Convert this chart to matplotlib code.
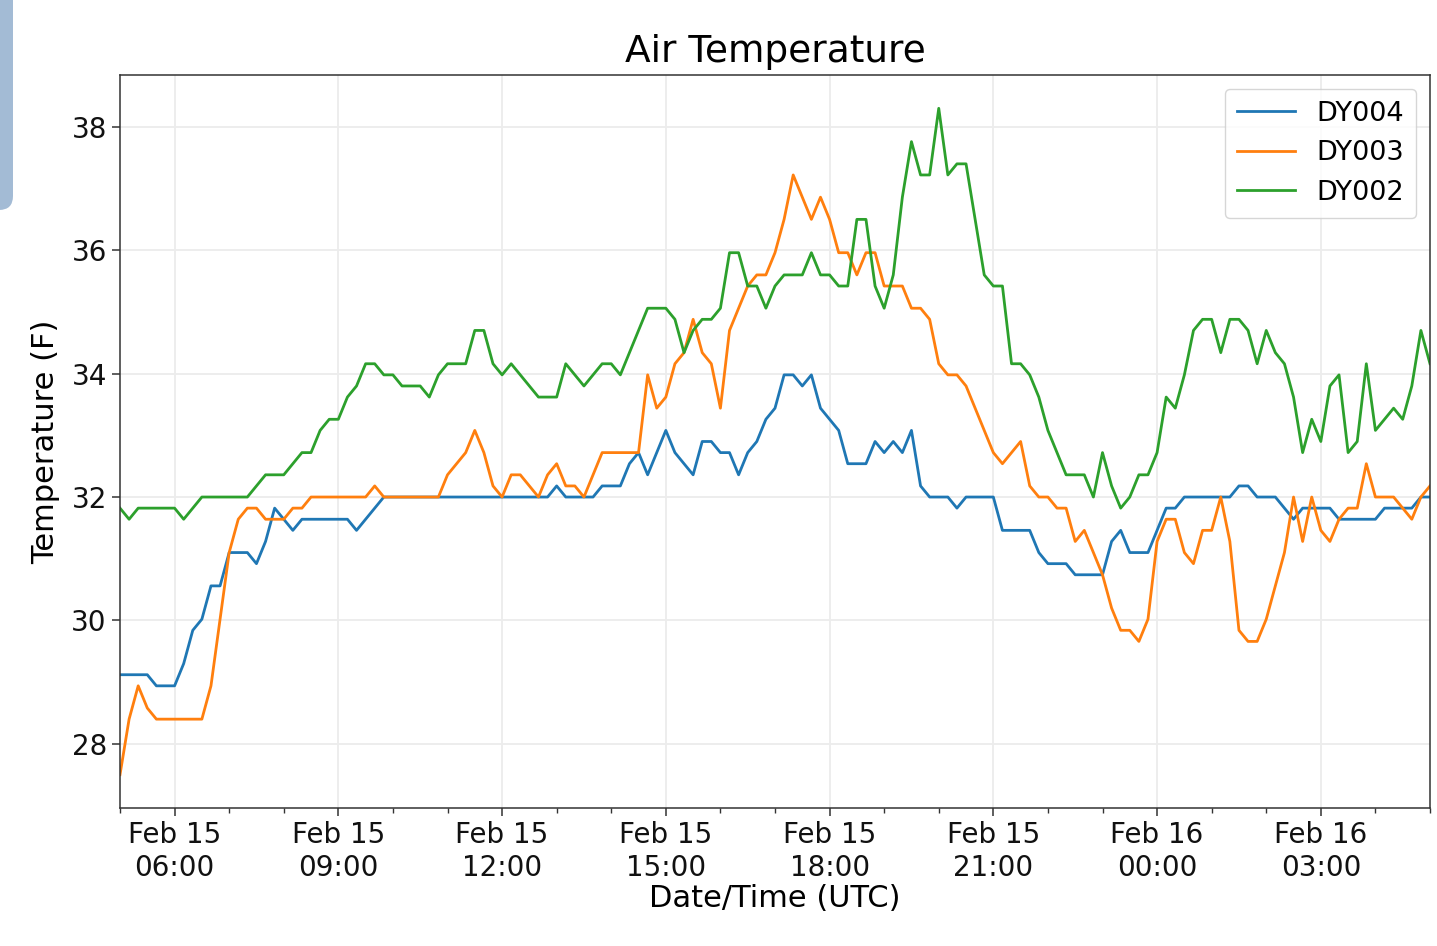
import matplotlib
matplotlib.use("Agg")
import matplotlib.pyplot as plt
import matplotlib.dates as mdates
from matplotlib.patches import FancyBboxPatch
from matplotlib.transforms import IdentityTransform
import pandas as pd

# ---- data (10-minute readings, Feb 15 05:00 -> Feb 16 05:00 UTC) ----
start_time = "2019-02-15 05:00"
series_names = ["DY004", "DY003", "DY002"]

dy004 = [29.12, 29.12, 29.12, 29.12, 28.94, 28.94, 28.94, 29.30, 29.84, 30.02,
         30.56, 30.56, 31.10, 31.10, 31.10, 30.92, 31.28, 31.82, 31.64, 31.46,
         31.64, 31.64, 31.64, 31.64, 31.64, 31.64, 31.46, 31.64, 31.82, 32.00,
         32.00, 32.00, 32.00, 32.00, 32.00, 32.00, 32.00, 32.00, 32.00, 32.00,
         32.00, 32.00, 32.00, 32.00, 32.00, 32.00, 32.00, 32.00, 32.18, 32.00,
         32.00, 32.00, 32.00, 32.18, 32.18, 32.18, 32.54, 32.72, 32.36, 32.72,
         33.08, 32.72, 32.54, 32.36, 32.90, 32.90, 32.72, 32.72, 32.36, 32.72,
         32.90, 33.26, 33.44, 33.98, 33.98, 33.80, 33.98, 33.44, 33.26, 33.08,
         32.54, 32.54, 32.54, 32.90, 32.72, 32.90, 32.72, 33.08, 32.18, 32.00,
         32.00, 32.00, 31.82, 32.00, 32.00, 32.00, 32.00, 31.46, 31.46, 31.46,
         31.46, 31.10, 30.92, 30.92, 30.92, 30.74, 30.74, 30.74, 30.74, 31.28,
         31.46, 31.10, 31.10, 31.10, 31.46, 31.82, 31.82, 32.00, 32.00, 32.00,
         32.00, 32.00, 32.00, 32.18, 32.18, 32.00, 32.00, 32.00, 31.82, 31.64,
         31.82, 31.82, 31.82, 31.82, 31.64, 31.64, 31.64, 31.64, 31.64, 31.82,
         31.82, 31.82, 31.82, 32.00, 32.00]

dy003 = [27.50, 28.40, 28.94, 28.58, 28.40, 28.40, 28.40, 28.40, 28.40, 28.40,
         28.94, 30.02, 31.10, 31.64, 31.82, 31.82, 31.64, 31.64, 31.64, 31.82,
         31.82, 32.00, 32.00, 32.00, 32.00, 32.00, 32.00, 32.00, 32.18, 32.00,
         32.00, 32.00, 32.00, 32.00, 32.00, 32.00, 32.36, 32.54, 32.72, 33.08,
         32.72, 32.18, 32.00, 32.36, 32.36, 32.18, 32.00, 32.36, 32.54, 32.18,
         32.18, 32.00, 32.36, 32.72, 32.72, 32.72, 32.72, 32.72, 33.98, 33.44,
         33.62, 34.16, 34.34, 34.88, 34.34, 34.16, 33.44, 34.70, 35.06, 35.42,
         35.60, 35.60, 35.96, 36.50, 37.22, 36.86, 36.50, 36.86, 36.50, 35.96,
         35.96, 35.60, 35.96, 35.96, 35.42, 35.42, 35.42, 35.06, 35.06, 34.88,
         34.16, 33.98, 33.98, 33.80, 33.44, 33.08, 32.72, 32.54, 32.72, 32.90,
         32.18, 32.00, 32.00, 31.82, 31.82, 31.28, 31.46, 31.10, 30.74, 30.20,
         29.84, 29.84, 29.66, 30.02, 31.28, 31.64, 31.64, 31.10, 30.92, 31.46,
         31.46, 32.00, 31.28, 29.84, 29.66, 29.66, 30.02, 30.56, 31.10, 32.00,
         31.28, 32.00, 31.46, 31.28, 31.64, 31.82, 31.82, 32.54, 32.00, 32.00,
         32.00, 31.82, 31.64, 32.00, 32.18]

dy002 = [31.82, 31.64, 31.82, 31.82, 31.82, 31.82, 31.82, 31.64, 31.82, 32.00,
         32.00, 32.00, 32.00, 32.00, 32.00, 32.18, 32.36, 32.36, 32.36, 32.54,
         32.72, 32.72, 33.08, 33.26, 33.26, 33.62, 33.80, 34.16, 34.16, 33.98,
         33.98, 33.80, 33.80, 33.80, 33.62, 33.98, 34.16, 34.16, 34.16, 34.70,
         34.70, 34.16, 33.98, 34.16, 33.98, 33.80, 33.62, 33.62, 33.62, 34.16,
         33.98, 33.80, 33.98, 34.16, 34.16, 33.98, 34.34, 34.70, 35.06, 35.06,
         35.06, 34.88, 34.34, 34.70, 34.88, 34.88, 35.06, 35.96, 35.96, 35.42,
         35.42, 35.06, 35.42, 35.60, 35.60, 35.60, 35.96, 35.60, 35.60, 35.42,
         35.42, 36.50, 36.50, 35.42, 35.06, 35.60, 36.86, 37.76, 37.22, 37.22,
         38.30, 37.22, 37.40, 37.40, 36.50, 35.60, 35.42, 35.42, 34.16, 34.16,
         33.98, 33.62, 33.08, 32.72, 32.36, 32.36, 32.36, 32.00, 32.72, 32.18,
         31.82, 32.00, 32.36, 32.36, 32.72, 33.62, 33.44, 33.98, 34.70, 34.88,
         34.88, 34.34, 34.88, 34.88, 34.70, 34.16, 34.70, 34.34, 34.16, 33.62,
         32.72, 33.26, 32.90, 33.80, 33.98, 32.72, 32.90, 34.16, 33.08, 33.26,
         33.44, 33.26, 33.80, 34.70, 34.16]

times = pd.date_range(start_time, periods=len(dy004), freq="10min")

# ---- figure ----
W, H = 1437, 946
fig = plt.figure(figsize=(W / 100, H / 100), dpi=100)
ax = fig.add_axes([120 / W, 1 - 808 / H, (1430 - 120) / W, (808 - 75) / H])

for name, vals in zip(series_names, [dy004, dy003, dy002]):
    ax.plot(times, vals, label=name, linewidth=2.0)

ax.set_xlim(times[0], times[-1])
ax.margins(y=0.05)

ax.xaxis.set_major_locator(mdates.HourLocator(byhour=range(0, 24, 3)))
ax.xaxis.set_minor_locator(mdates.HourLocator())
ax.xaxis.set_major_formatter(mdates.DateFormatter("%b %d\n%H:%M"))

ax.grid(True, which="major", color="#ececec", linewidth=1.3)
ax.set_axisbelow(True)

ax.tick_params(axis="both", which="major", labelsize=20, length=6, width=1.1,
               color="#333333", labelcolor="#111111")
ax.tick_params(axis="x", which="minor", length=3.5, width=1.0, color="#333333")
for s in ax.spines.values():
    s.set_color("#333333")
    s.set_linewidth(1.1)

ax.set_title("Air Temperature", fontsize=27, pad=9)
ax.set_xlabel("Date/Time (UTC)", fontsize=22, labelpad=2)
ax.set_ylabel("Temperature (F)", fontsize=22, labelpad=8)

leg = ax.legend(loc="upper right", fontsize=19.5, handlelength=2.15, borderpad=0.45,
                labelspacing=0.5, handletextpad=0.8, borderaxespad=0.5, framealpha=0.8)

# screenshot edge artifact at top left
fig.patches.append(FancyBboxPatch((-30, H - 210), 43, 240,
                                  boxstyle="round,pad=0,rounding_size=14",
                                  transform=IdentityTransform(), figure=fig,
                                  facecolor="#a3bbd5", edgecolor="none"))

fig.savefig("out.png", dpi=100)
